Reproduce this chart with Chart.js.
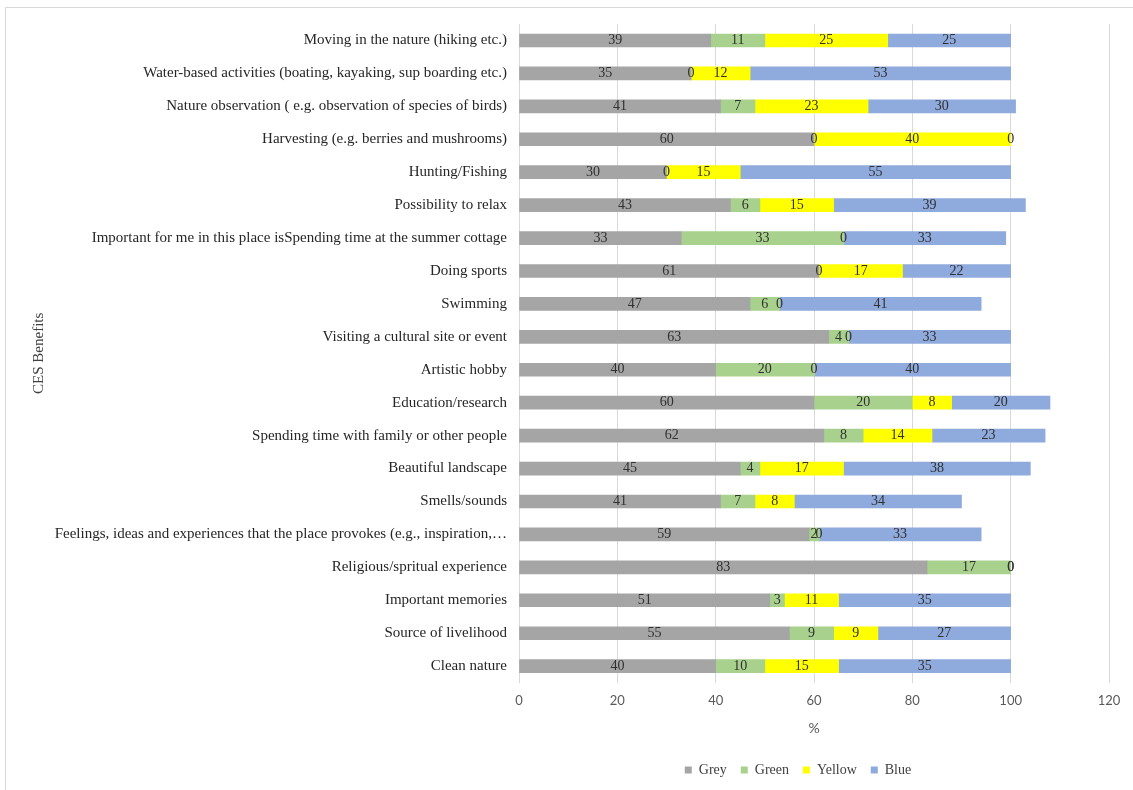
<!DOCTYPE html>
<html>
<head>
<meta charset="utf-8">
<script src="https://cdn.jsdelivr.net/npm/chart.js@4.4.0/dist/chart.umd.min.js"></script>
<style>
  html, body { margin: 0; padding: 0; background: #fff; }
  #wrap { position: relative; width: 1133px; height: 790px; overflow: hidden; }
  #frame { position: absolute; left: 5px; top: 7px; width: 1200px; height: 900px; border: 1px solid #d9d9d9; box-sizing: border-box; }
  #myChart { position: absolute; left: 0; top: 0; }
</style>
</head>
<body>
<div id="wrap">
  <div id="frame"></div>
  <canvas id="myChart" width="1133" height="790"></canvas>
</div>
<script>
const categories = [
  'Moving in the nature (hiking etc.)',
  'Water-based activities (boating, kayaking, sup boarding etc.)',
  'Nature observation ( e.g. observation of species of birds)',
  'Harvesting (e.g. berries and mushrooms)',
  'Hunting/Fishing',
  'Possibility to relax',
  'Important for me in this place isSpending time at the summer cottage',
  'Doing sports',
  'Swimming',
  'Visiting a cultural site or event',
  'Artistic hobby',
  'Education/research',
  'Spending time with family or other people',
  'Beautiful landscape',
  'Smells/sounds',
  'Feelings, ideas and experiences that the place provokes (e.g., inspiration,…',
  'Religious/spritual experience',
  'Important memories',
  'Source of livelihood',
  'Clean nature'
];

const grey   = [39, 35, 41, 60, 30, 43, 33, 61, 47, 63, 40, 60, 62, 45, 41, 59, 83, 51, 55, 40];
const green  = [11,  0,  7,  0,  0,  6, 33,  0,  6,  4, 20, 20,  8,  4,  7,  2, 17,  3,  9, 10];
const yellow = [25, 12, 23, 40, 15, 15,  0, 17,  0,  0,  0,  8, 14, 17,  8,  0,  0, 11,  9, 15];
const blue   = [25, 53, 30,  0, 55, 39, 33, 22, 41, 33, 40, 20, 23, 38, 34, 33,  0, 35, 27, 35];

const xTicks = [0, 20, 40, 60, 80, 100, 120];

const serif = "'Liberation Serif', 'DejaVu Serif', serif";
const sans = "Lato, 'Liberation Sans', sans-serif";

// labels drawn in the middle of each segment, zeros included
const segLabels = {
  id: 'segLabels',
  afterLayout(chart) {
    // nudge the legend a bit left, like the original
    if (chart.legend) {
      chart.legend.left -= 16;
      chart.legend.right -= 16;
    }
  },
  afterDatasetsDraw(chart) {
    const ctx = chart.ctx;
    ctx.save();
    ctx.font = '14px ' + serif;
    ctx.fillStyle = '#303030';
    ctx.textAlign = 'center';
    ctx.textBaseline = 'middle';
    chart.data.datasets.forEach((ds, i) => {
      const meta = chart.getDatasetMeta(i);
      meta.data.forEach((bar, j) => {
        const v = ds.data[j];
        const cx = (bar.x + bar.base) / 2;
        ctx.fillText(String(v), cx, bar.y);
      });
    });
    ctx.restore();
  }
};

const data = {
  labels: categories,
  datasets: [
    { label: 'Grey', data: grey, backgroundColor: '#a5a5a5' },
    { label: 'Green', data: green, backgroundColor: '#a9d18e' },
    { label: 'Yellow', data: yellow, backgroundColor: '#ffff00' },
    { label: 'Blue', data: blue, backgroundColor: '#8faadc' }
  ]
};

const config = {
  type: 'bar',
  data,
  options: {
    indexAxis: 'y',
    responsive: false,
    animation: false,
    datasets: { bar: { barThickness: 13, borderWidth: 0 } },
    layout: { padding: { top: 24, right: 24, bottom: 3, left: 26 } },
    plugins: {
      legend: {
        position: 'bottom',
        fullSize: false,
        labels: {
          boxWidth: 7,
          boxHeight: 7,
          padding: 14,
          color: '#404040',
          font: { family: serif, size: 14 }
        }
      },
      tooltip: { enabled: false }
    },
    scales: {
      x: {
        stacked: true,
        min: 0,
        max: 120,
        afterBuildTicks(scale) {
          scale.ticks = xTicks.map(v => ({ value: v }));
        },
        grid: { color: '#d9d9d9', drawTicks: false },
        border: { display: false },
        ticks: { color: '#595959', padding: 10, font: { family: sans, size: 13 } },
        title: {
          display: true,
          text: '%',
          color: '#595959',
          padding: { top: 2, bottom: 12 },
          font: { family: sans, size: 14 }
        }
      },
      y: {
        stacked: true,
        afterFit(scale) { scale.width = 493; },
        grid: { display: false, drawTicks: false },
        border: { display: false },
        ticks: { color: '#262626', padding: 12, autoSkip: false, font: { family: serif, size: 15 } },
        title: {
          display: true,
          text: 'CES Benefits',
          color: '#404040',
          padding: 4,
          font: { family: serif, size: 15 }
        }
      }
    }
  },
  plugins: [segLabels]
};

const myChart = new Chart(document.getElementById('myChart'), config);
</script>
</body>
</html>
